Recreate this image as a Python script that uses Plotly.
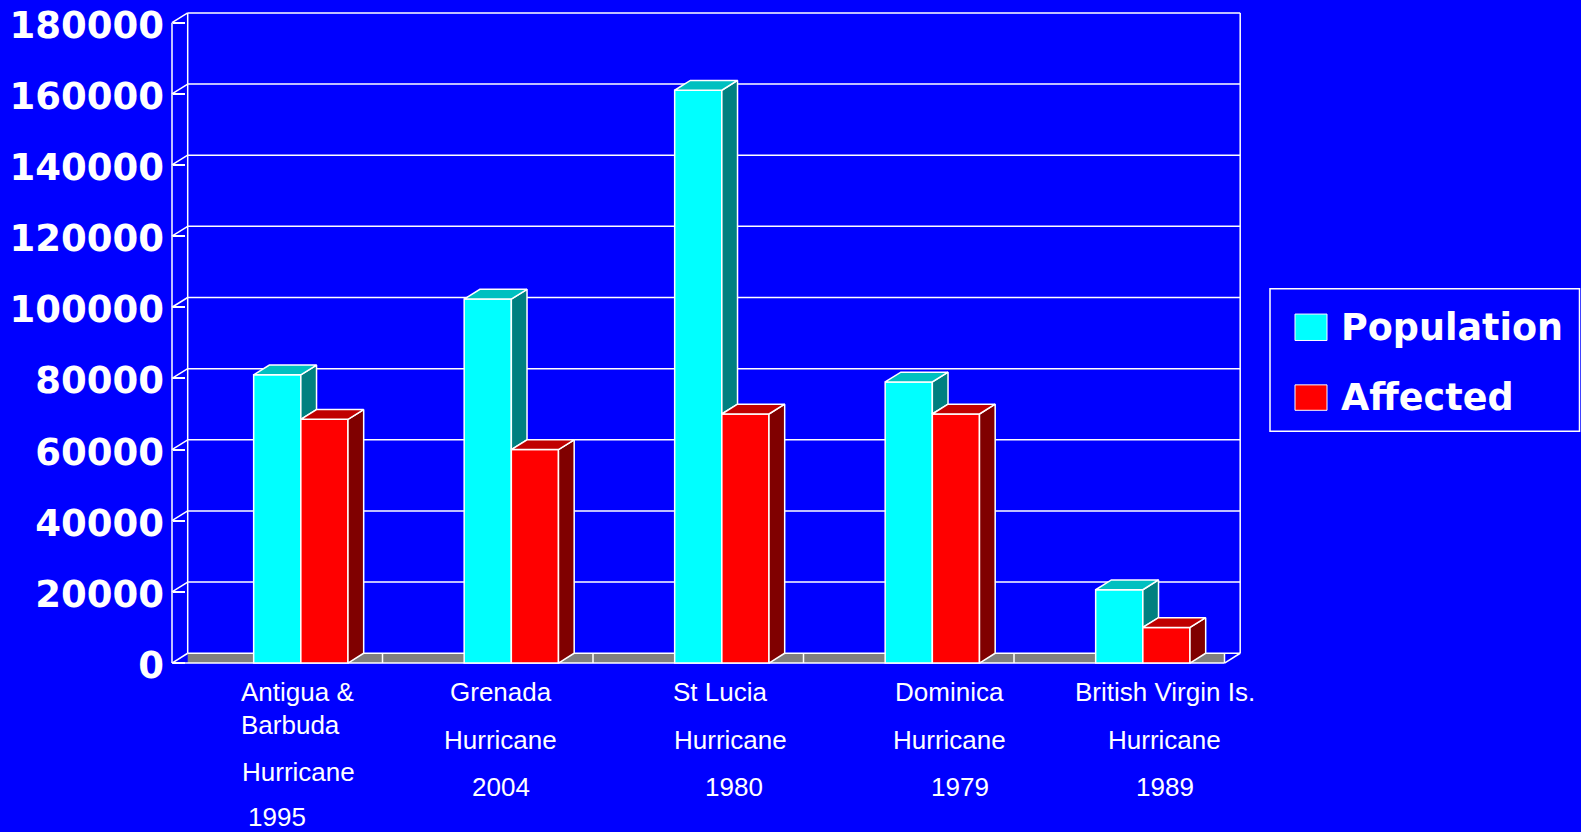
import plotly.graph_objects as go

# ---------------- data ----------------
categories = ["Antigua & Barbuda", "Grenada", "St Lucia", "Dominica", "British Virgin Is."]
label_lines = [
    ["Antigua &", "Barbuda", "Hurricane", "1995"],
    ["Grenada", "Hurricane", "2004"],
    ["St Lucia", "Hurricane", "1980"],
    ["Dominica", "Hurricane", "1979"],
    ["British Virgin Is.", "Hurricane", "1989"],
]
series_names = ["Population", "Affected"]
population = [81000, 102300, 161000, 79000, 20600]
affected = [68500, 60000, 70000, 70000, 10000]
y_ticks = [0, 20000, 40000, 60000, 80000, 100000, 120000, 140000, 160000, 180000]
y_tick_labels = ["0", "20000", "40000", "60000", "80000", "100000", "120000", "140000", "160000", "180000"]

# ---------------- style / geometry (pixels) ----------------
W, H = 1581, 832
Lp, Rp, Tp, Bp = 150, 1250, 4, 672      # plot area
FX, Z = 172, 663                         # front axis x, front zero y
CW = 210.5                               # px per category (front plane)
KY = 642.3 / 180000                      # px per unit
DXP, DYP = 15.7, 9.8                     # depth offset in px
DX, DY = DXP / CW, DYP / KY              # depth offset in data units
BAR_W = 0.224
OFFSETS = [-0.112, 0.112]
FRONT = ["#00FFFF", "#FF0000"]
TOP = ["#00C0C0", "#C00000"]
SIDE = ["#008080", "#800000"]
BG = "#0000FF"
WL = 1.5

x_range = [-0.5 - (FX - Lp) / CW, -0.5 + (Rp - FX) / CW]
y_range = [-(Bp - Z) / KY, (Z - Tp) / KY]
n = len(categories)
xs = list(range(n))
x_lo, x_hi = -0.5, n - 0.5
y_top = y_ticks[-1]


def py2paper(py):
    return (Bp - py) / (Bp - Tp)


def px2paper(px):
    return (px - Lp) / (Rp - Lp)


def cat_px(i):
    return FX + (i + 0.5) * CW


fig = go.Figure()

# front faces (bars)
series = [population, affected]
for s, vals in enumerate(series):
    fig.add_trace(go.Bar(
        x=xs, y=vals, name=series_names[s], offset=OFFSETS[s], width=BAR_W,
        marker=dict(color=FRONT[s], line=dict(color="white", width=WL)),
        hoverinfo="skip", showlegend=False,
    ))

# top and side faces
def add_poly(px_list, py_list, color):
    fig.add_trace(go.Scatter(
        x=px_list, y=py_list, mode="lines", fill="toself", fillcolor=color,
        line=dict(color="white", width=WL), hoverinfo="skip", showlegend=False,
    ))

for s, vals in enumerate(series):
    tx, ty, sx, sy = [], [], [], []
    for i, v in enumerate(vals):
        x0 = xs[i] + OFFSETS[s]
        x1 = x0 + BAR_W
        tx += [x0, x1, x1 + DX, x0 + DX, x0, None]
        ty += [v, v, v + DY, v + DY, v, None]
        # side face: visible part above the neighbouring bar on its right
        if s + 1 < len(series):
            lo = min(series[s + 1][i], v)
        else:
            lo = 0
        if v > lo:
            sx += [x1, x1, x1 + DX, x1 + DX, x1, None]
            sy += [lo, v, v + DY, lo + DY, lo, None]
    add_poly(sx, sy, SIDE[s])
    add_poly(tx, ty, TOP[s])

# ---------------- walls and floor ----------------
shapes = []
line = dict(color="white", width=WL)
# floor slab
shapes.append(dict(type="rect", xref="x", yref="y", x0=x_lo + DX, x1=x_hi, y0=0, y1=DY,
                   fillcolor="#808080", line=dict(width=0), layer="below"))
# back wall gridlines + left wall diagonals
for t in y_ticks:
    shapes.append(dict(type="line", xref="x", yref="y", x0=x_lo + DX, x1=x_hi + DX,
                       y0=t + DY, y1=t + DY, line=line, layer="below"))
    shapes.append(dict(type="line", xref="x", yref="y", x0=x_lo, x1=x_lo + DX,
                       y0=t, y1=t + DY, line=line, layer="below"))
# back wall verticals
for xv in (x_lo + DX, x_hi + DX):
    shapes.append(dict(type="line", xref="x", yref="y", x0=xv, x1=xv, y0=DY, y1=y_top + DY,
                       line=line, layer="below"))
# front axis line
shapes.append(dict(type="line", xref="x", yref="y", x0=x_lo, x1=x_lo, y0=0, y1=y_top,
                   line=line, layer="below"))
# floor front edge, right diagonal, category dividers
shapes.append(dict(type="line", xref="x", yref="y", x0=x_lo, x1=x_hi, y0=0, y1=0,
                   line=line, layer="below"))
shapes.append(dict(type="line", xref="x", yref="y", x0=x_hi, x1=x_hi + DX, y0=0, y1=DY,
                   line=line, layer="below"))
for i in range(n):
    xv = i + 0.5
    shapes.append(dict(type="line", xref="x", yref="y", x0=xv, x1=xv, y0=0, y1=DY,
                       line=line, layer="below"))

# ---------------- legend (drawn) ----------------
shapes.append(dict(type="rect", xref="paper", yref="paper",
                   x0=px2paper(1270), x1=px2paper(1579.5), y0=py2paper(430.5), y1=py2paper(287.5),
                   line=dict(color="white", width=WL), fillcolor=BG))
legend_rows = [(313, 339.5), (384, 409.5)]
annotations = []
for s, (ytop, ybot) in enumerate(legend_rows):
    shapes.append(dict(type="rect", xref="paper", yref="paper",
                       x0=px2paper(1295), x1=px2paper(1327), y0=py2paper(ybot), y1=py2paper(ytop),
                       line=dict(color="white", width=1), fillcolor=FRONT[s]))
    annotations.append(dict(text=series_names[s], xref="paper", yref="paper",
                            x=px2paper(1339), y=py2paper(ybot - 12.8), xanchor="left", yanchor="middle",
                            showarrow=False,
                            font=dict(family="DejaVu Sans", size=36.5, color="white", weight="bold")))

# ---------------- category labels ----------------
label_x_px = [[297.5, 290.5, 298, 277], [501, 500.6, 501], [720, 730, 733.6],
              [949, 949, 960], [1164.6, 1164.6, 1165]]
label_base_px = [[701.7, 734, 781.7, 826.5], [701.7, 749.3, 796.7], [701.7, 749.3, 796.7],
                 [701.7, 749.3, 796.7], [701.7, 749.3, 796.7]]
for i, lines in enumerate(label_lines):
    for j, txt in enumerate(lines):
        annotations.append(dict(text=txt, xref="x", yref="paper", x=xs[i],
                                xshift=label_x_px[i][j] - cat_px(i),
                                y=py2paper(label_base_px[i][j] - 9.2), xanchor="center", yanchor="middle",
                                showarrow=False,
                                font=dict(family="Liberation Sans, Arial", size=26, color="white")))

fig.update_layout(
    width=W, height=H,
    margin=dict(l=Lp, r=W - Rp, t=Tp, b=H - Bp, pad=0),
    paper_bgcolor=BG, plot_bgcolor=BG,
    barmode="overlay", showlegend=False,
    shapes=shapes, annotations=annotations,
    xaxis=dict(range=x_range, showgrid=False, zeroline=False, showline=False,
               showticklabels=False, ticks="", fixedrange=True),
    yaxis=dict(range=y_range, showgrid=False, zeroline=False, showline=False,
               anchor="free", position=(FX - Lp) / (Rp - Lp),
               tickmode="array", tickvals=y_ticks, ticktext=y_tick_labels,
               ticks="inside", ticklen=12, tickwidth=WL, tickcolor="white",
               ticklabelstandoff=8, ticklabelshift=2,
               tickfont=dict(family="DejaVu Sans", size=37, color="white", weight="bold"),
               fixedrange=True),
)

fig.write_html("out.html")
